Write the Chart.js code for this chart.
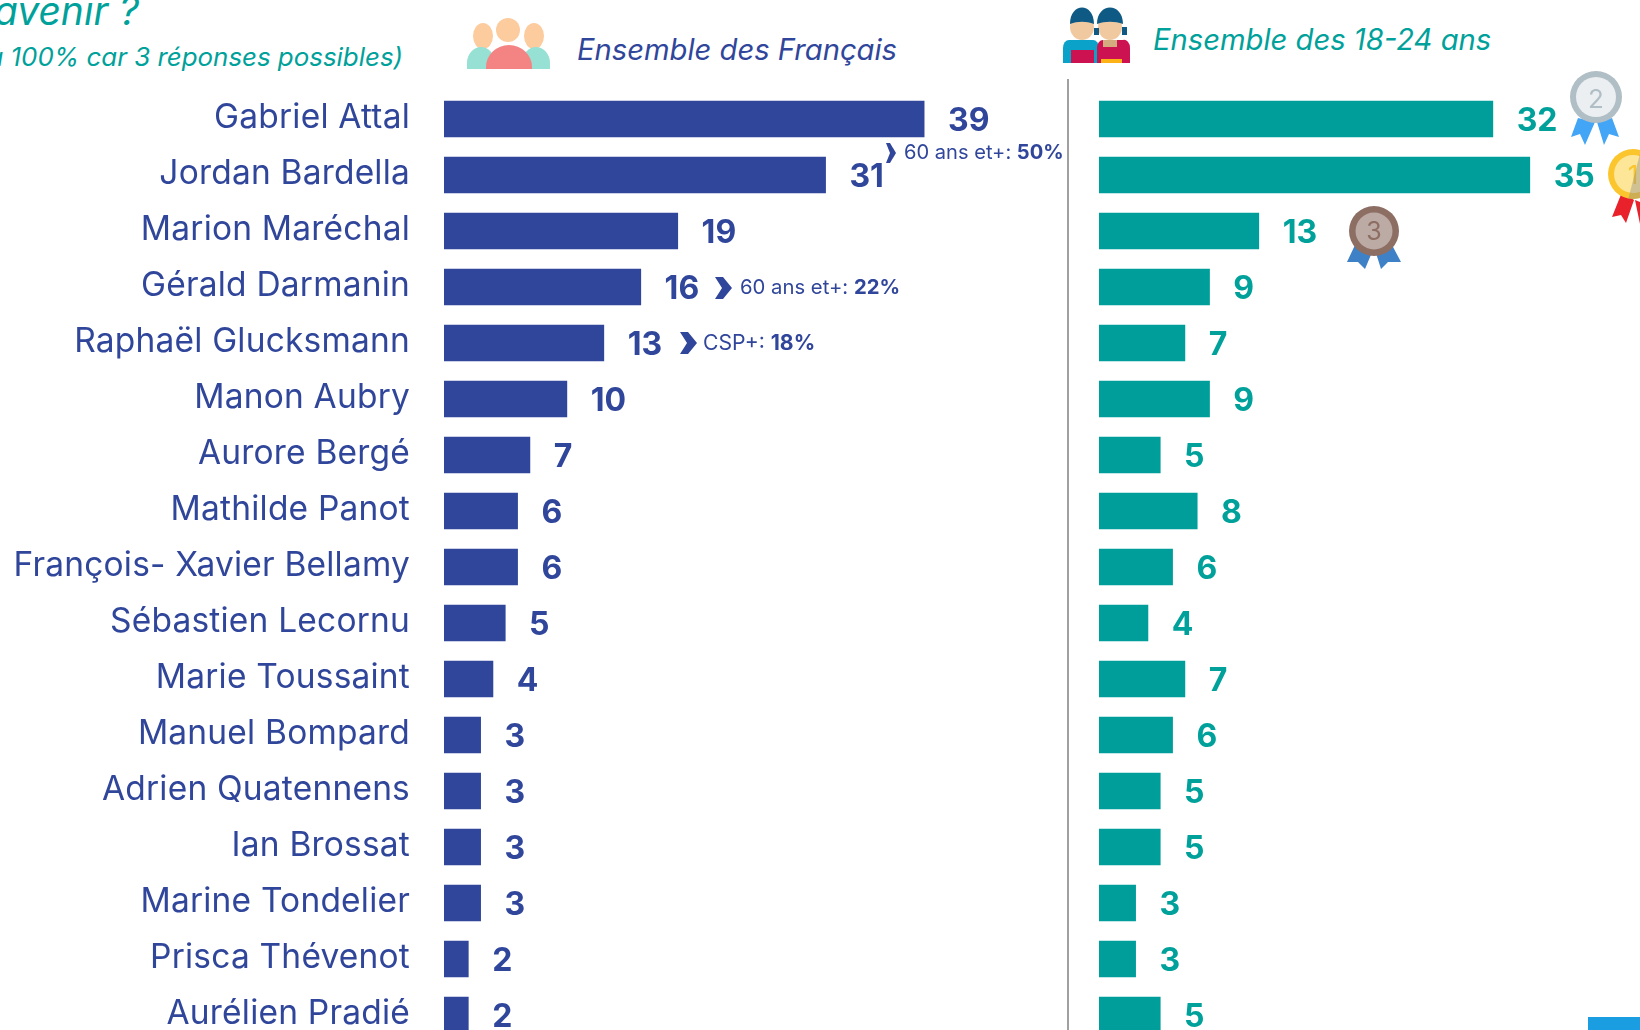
<!DOCTYPE html>
<html lang="fr"><head><meta charset="utf-8">
<style>
html,body{margin:0;padding:0;width:1640px;height:1030px;overflow:hidden;background:#fff}
canvas{position:absolute;display:block}
.t{position:absolute;white-space:nowrap;font-family:Inter,sans-serif}
.navy{color:#30469b}.teal{color:#00a19a}
.i{font-style:italic}
svg{position:absolute;left:0;top:0}
</style>
<script src="https://cdn.jsdelivr.net/npm/chart.js@4/dist/chart.umd.min.js"></script>
</head><body>
<div class="t teal i" style="right:1501px;top:-13px;font-size:39px">avenir ?</div>
<div class="t teal i" style="right:1237px;top:41px;font-size:25.9px">à 100% car 3 réponses possibles)</div>
<div class="t navy i" style="left:577px;top:32px;font-size:29.2px">Ensemble des Français</div>
<div class="t teal i" style="left:1153px;top:22px;font-size:29.2px">Ensemble des 18-24 ans</div>
<div style="position:absolute;left:1067px;top:79px;width:1.5px;height:951px;background:#a0a0a0"></div>
<canvas id="left" style="left:0;top:91px;width:1060px;height:952px" width="1060" height="952"></canvas>
<canvas id="right" style="left:1098.5px;top:91px;width:542px;height:952px" width="542" height="952"></canvas>
<div class="t navy" style="left:904px;top:140px;font-size:20.1px">60 ans et+: <b>50%</b></div>
<div class="t navy" style="left:740px;top:274px;font-size:20.3px">60 ans et+: <b>22%</b></div>
<div class="t navy" style="left:703px;top:329px;font-size:21.2px">CSP+: <b>18%</b></div>
<div style="position:absolute;left:1588px;top:1017px;width:52px;height:13px;background:#1b9de2"></div>
<svg width="1640" height="1030" viewBox="0 0 1640 1030">
<defs><clipPath id="g"><circle cx="1633" cy="174" r="25"/></clipPath></defs>
<path d="M886 143l4 0 6 10-6 10-4 0 4-10z" fill="#30469b"/>
<path d="M715 277l8 0 9 11-9 11-8 0 7-11z" fill="#30469b"/>
<path d="M680 332l8 0 9 11-9 11-8 0 7-11z" fill="#30469b"/>
<ellipse cx="483" cy="36" rx="10" ry="13" fill="#fccb9e"/><ellipse cx="534" cy="36" rx="10" ry="13" fill="#fccb9e"/><ellipse cx="508" cy="30" rx="12" ry="12" fill="#fccb9e"/>
<path d="M467 69v-6a14 16 0 0 1 28 0v6z" fill="#97e0d4"/><path d="M522 69v-6a14 16 0 0 1 28 0v6z" fill="#97e0d4"/>
<path d="M486 69v-2a23 22 0 0 1 46 0v2z" fill="#f48484"/>
<path d="M1063 63v-15a6 8 0 0 1 6-8l24 0a6 8 0 0 1 6 8v15z" fill="#0aa2c9"/>
<rect x="1071" y="50" width="23" height="13" fill="#cc1251"/>
<ellipse cx="1082" cy="27" rx="12" ry="13" fill="#f0c9a0"/>
<path d="M1070 24c0-22 24-22 24 0c-8-3-16-3-24 0z" fill="#0e5a85"/>
<path d="M1097 63v-15a6 8 0 0 1 6-8l20 0a6 8 0 0 1 7 8v15z" fill="#cc1251"/>
<rect x="1101" y="59" width="21" height="4" fill="#fcb315"/>
<rect x="1103" y="40" width="14" height="7" fill="#d3ab7f"/>
<ellipse cx="1110" cy="27" rx="12" ry="13" fill="#f0c9a0"/>
<path d="M1097 24c0-22 26-22 26 0c-8-3-18-3-26 0z" fill="#0e5a85"/>
<rect x="1094" y="28" width="5" height="7" fill="#0e5a85"/><rect x="1122" y="27" width="5" height="8" fill="#0e5a85"/>
<path d="M1578 118L1571 137L1580 134L1585 145L1595 122z M1604 145L1609 134L1619 137L1612 118L1597 122z" fill="#42a5f5"/>
<circle cx="1596" cy="97" r="26" fill="#b0bec5"/><circle cx="1596" cy="97" r="20" fill="#eceff1"/>
<text x="1596" y="108" text-anchor="middle" font-family="Inter" font-size="26" fill="#b0bec5">2</text>
<path d="M1622 192L1612 217L1621 215L1626 223L1634 200z M1640 224V202L1635 200z" fill="#e8212a"/>
<circle cx="1633" cy="174" r="25" fill="#fbc62d"/><circle cx="1633" cy="174" r="19" fill="#fde698"/>
<text x="1633" y="184" text-anchor="middle" font-family="Inter" font-size="26" fill="#fbc62d">1</text>
<path d="M1641 150v50h-13z" fill="#8a8a8a" fill-opacity=".4" clip-path="url(#g)"/>
<path d="M1355 245L1347 262L1358 262L1365 269L1373 250z M1381 269L1388 262L1401 262L1392 245L1375 250z" fill="#3f81c7"/>
<circle cx="1374" cy="231" r="25" fill="#8d6e63"/><circle cx="1374" cy="231" r="18.5" fill="#bcaaa4"/>
<text x="1374" y="240" text-anchor="middle" font-family="Inter" font-size="25" fill="#8d6e63">3</text>
</svg>
<script>
const categories=["Gabriel Attal","Jordan Bardella","Marion Maréchal","Gérald Darmanin","Raphaël Glucksmann","Manon Aubry","Aurore Bergé","Mathilde Panot","François- Xavier Bellamy","Sébastien Lecornu","Marie Toussaint","Manuel Bompard","Adrien Quatennens","Ian Brossat","Marine Tondelier","Prisca Thévenot","Aurélien Pradié"];
const ensembleFrancais=[39,31,19,16,13,10,7,6,6,5,4,3,3,3,3,2,2];
const ensemble1824=[32,35,13,9,7,9,5,8,6,4,7,6,5,5,3,3,5];
const NAVY="#30469b",TEAL="#00a19a",TEAL_BAR="#009e9b";
const valueLabels={id:"valueLabels",
  beforeDraw(c){c.ctx.letterSpacing="0.2px";},
  afterDatasetsDraw(c,a,o){
  const ctx=c.ctx,m=c.getDatasetMeta(0);ctx.save();ctx.letterSpacing="0px";
  ctx.font='bold 32px Inter';ctx.fillStyle=o.color;ctx.textBaseline="middle";ctx.textAlign="left";
  m.data.forEach((b,i)=>ctx.fillText(String(c.data.datasets[0].data[i]),b.x+23.5,b.y+2));
  ctx.restore();}};
function make(id,data,barColor,textColor,xmax,showLabels){
  return new Chart(document.getElementById(id),{type:"bar",plugins:[valueLabels],
    data:{labels:categories,datasets:[{data,backgroundColor:barColor,barPercentage:0.655,categoryPercentage:1}]},
    options:{indexAxis:"y",responsive:false,animation:false,layout:{padding:0},
      plugins:{legend:{display:false},tooltip:{enabled:false},valueLabels:{color:textColor}},
      scales:{x:{display:false,min:0,max:xmax},
        y:{display:showLabels,grid:{display:false,drawTicks:false},border:{display:false},
          afterFit(s){ if(showLabels){s.width=444;} s.paddingTop=0;s.paddingBottom=0; },
          ticks:{color:NAVY,padding:34,labelOffset:-1,autoSkip:false,font:{family:'Inter',size:33.5}}}}}});
}
make("left",ensembleFrancais,NAVY,NAVY,50,true);
make("right",ensemble1824,TEAL_BAR,TEAL,44,false);
</script>
</body></html>
